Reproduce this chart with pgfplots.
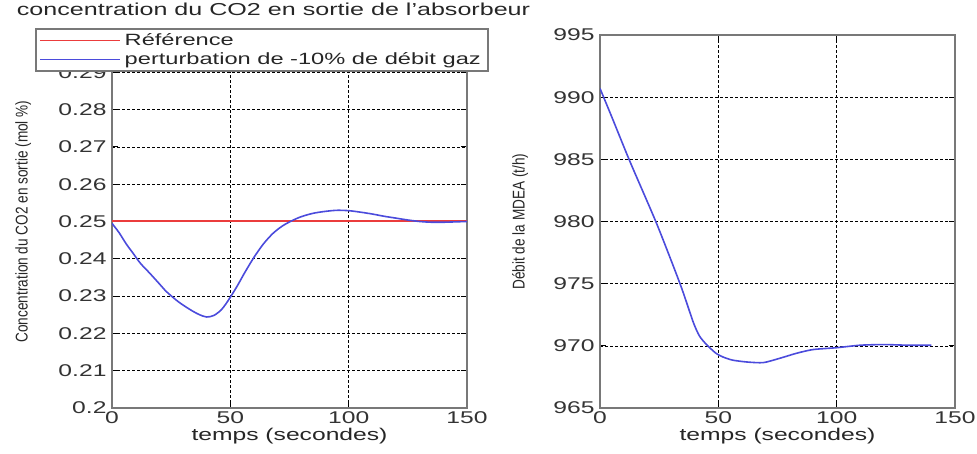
\documentclass[border=0pt]{standalone}
\usepackage{pgfplots}
\pgfplotsset{compat=1.18}
\usepackage{fontspec}
\setmainfont{Liberation Sans}[FakeStretch=1.45]
\newfontfamily\narrowfont{Liberation Sans}[FakeStretch=0.8]
\definecolor{cred}{RGB}{235,60,60}
\definecolor{cblue}{RGB}{75,75,220}
\definecolor{framec}{RGB}{120,120,120}
\pgfplotsset{
  mystyle/.style={
    scale only axis, width=355pt, height=373pt,
    anchor=south west,
    xmin=0, xmax=150, xtick={0,50,100,150},
    grid=major,
    major grid style={black, line width=0.6pt, dash pattern=on 2.5pt off 2.5pt},
    axis line style={framec, line width=2pt},
    tick align=inside, major tick length=6pt,
    tick style={black, line width=0.8pt},
    /pgf/number format/assume math mode=true,
    ticklabel style={font=\fontsize{17}{19}\selectfont, text=black!80},
    xlabel style={font=\fontsize{17}{19}\selectfont, text=black!85, yshift=2pt},
    ylabel style={font=\narrowfont\fontsize{17}{19}\selectfont, text=black!85, anchor=center},
    xlabel={temps (secondes)},
    xticklabel shift=0pt, yticklabel shift=2pt,
  }
}
\begin{document}
\begin{tikzpicture}[x=1pt,y=1pt]
\path[use as bounding box] (0,0) rectangle (977,454);
\begin{axis}[mystyle, at={(112pt,46pt)},
  ymin=0.2, ymax=0.3, ytick={0.2,0.21,0.22,0.23,0.24,0.25,0.26,0.27,0.28,0.29,0.3},
  yticklabel style={/pgf/number format/fixed, /pgf/number format/precision=2},
  ylabel={Concentration du CO2 en sortie (mol \%)},
  ylabel style={at={(axis description cs:-0.25,0.5)}},
  title={concentration du CO2 en sortie de l'absorbeur},
  title style={font=\fontsize{17.3}{19}\selectfont, text=black!85, at={(axis description cs:0.455,1.052)}, anchor=center},
  legend style={at={(axis description cs:-0.216,1.019)}, anchor=north west,
    draw=framec, line width=1.8pt, fill=white, inner sep=3pt,
    font=\fontsize{16.3}{18}\selectfont, text=black!85,
    row sep=1.5pt, nodes={inner xsep=4pt}},
  legend cell align=left,
  legend image code/.code={\draw[#1, line width=1.5pt] (0pt,0pt) -- (80pt,0pt);},
]
\addplot[color=cred, line width=2pt, mark=none] coordinates {(0,0.25) (50,0.25) (100,0.25) (150,0.25)};
\addlegendentry{Référence}
\addplot[color=cblue, line width=1.6pt, mark=none, smooth] coordinates {
(0,0.2495) (3,0.2470) (6,0.2440) (9,0.2414) (12,0.2388) (16,0.2361) (20,0.2333)
(23,0.2312) (27,0.2290) (30,0.2276) (34,0.2260) (37,0.2250) (40,0.2244) (43,0.2248)
(46,0.2262) (48,0.2278) (50,0.2297) (53,0.2328) (56,0.2362) (60,0.2404) (64,0.2440)
(68,0.2468) (72,0.2488) (76,0.2502) (80,0.2513) (85,0.2522) (90,0.2527) (95,0.2530)
(100,0.2529) (105,0.2525) (110,0.2520) (115,0.2514) (120,0.2509) (125,0.2504)
(130,0.2500) (135,0.2498) (140,0.2498) (145,0.2499) (150,0.2500)};
\addlegendentry{perturbation de -10\% de débit gaz}
\end{axis}
\begin{axis}[mystyle, at={(600pt,46pt)},
  ymin=965, ymax=995, ytick={965,970,975,980,985,990,995},
  ylabel={Débit de la MDEA (t/h)},
  ylabel style={at={(axis description cs:-0.225,0.5)}},
]
\addplot[color=cblue, line width=1.6pt, mark=none, smooth, tension=0.4] coordinates {
(0,990.7) (5,988.4) (12.7,984.8) (24,979.8) (34,974.9) (39.4,971.9) (42,970.8)
(45,970.1) (49,969.4) (52,969.1) (56,968.85) (62,968.7) (69,968.65) (76,969.0)
(83,969.4) (90,969.7) (100,969.85) (110,970.05) (120,970.1) (130,970.05) (140,970.05)};
\end{axis}
\end{tikzpicture}
\end{document}
